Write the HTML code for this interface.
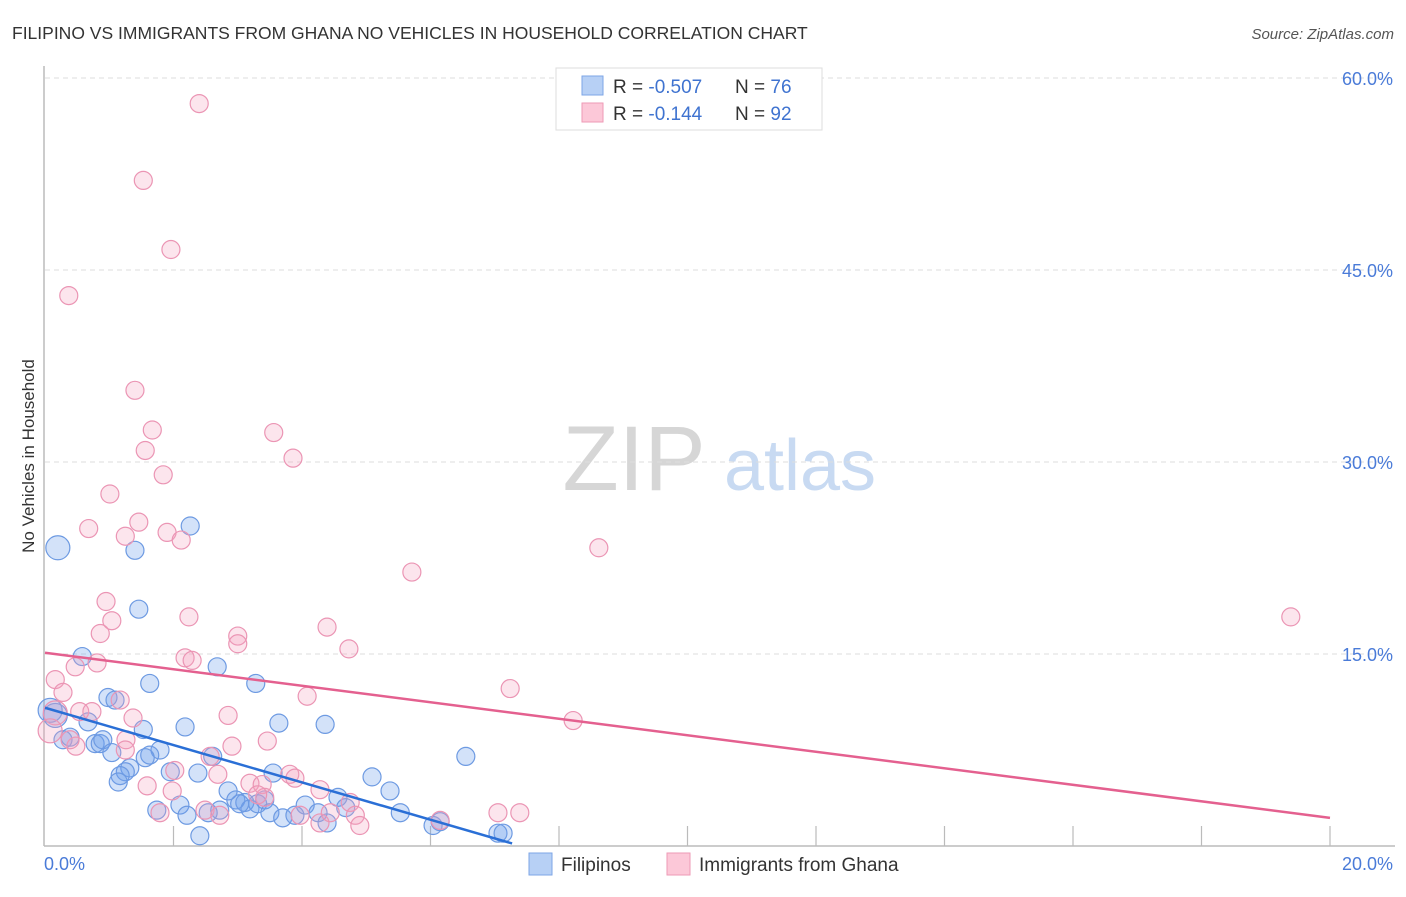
<!DOCTYPE html>
<html><head><meta charset="utf-8"><style>
body{margin:0;background:#fff;font-family:"Liberation Sans",sans-serif;}
svg text{font-family:"Liberation Sans",sans-serif;}
</style></head><body>
<svg id="c" width="1406" height="892" xmlns="http://www.w3.org/2000/svg">
<text x="12" y="39" font-size="17.5" fill="#333">FILIPINO VS IMMIGRANTS FROM GHANA NO VEHICLES IN HOUSEHOLD CORRELATION CHART</text>
<text x="1394" y="39" font-size="15" fill="#555" font-style="italic" text-anchor="end">Source: ZipAtlas.com</text>
<text x="34" y="456" font-size="17" fill="#333" text-anchor="middle" transform="rotate(-90 34 456)">No Vehicles in Household</text>
<g>
<text x="634" y="490" font-size="92" fill="#d6d6d6" font-family="Liberation Serif,serif" text-anchor="middle">ZIP</text>
<text x="800" y="490" font-size="72" fill="#c8daf2" text-anchor="middle">atlas</text>
</g>
<g id="grid"></g><g id="axes"></g><g id="pts"></g><g id="trend"></g>
<g>
<rect x="556" y="68" width="266" height="62" fill="#fff" stroke="#ddd"/>
<rect x="582" y="76" width="21" height="19" fill="#b7d0f5" stroke="#7ea6e6"/>
<rect x="582" y="103" width="21" height="19" fill="#fcc8d8" stroke="#ee9ab6"/>
<text x="613" y="93" font-size="19" fill="#333">R = <tspan fill="#3f73d0">-0.507</tspan></text>
<text x="735" y="93" font-size="19" fill="#333">N = <tspan fill="#3f73d0">76</tspan></text>
<text x="613" y="120" font-size="19" fill="#333">R = <tspan fill="#3f73d0"> -0.144</tspan></text>
<text x="735" y="120" font-size="19" fill="#333">N = <tspan fill="#3f73d0">92</tspan></text>
</g>
<g>
<rect x="529" y="853" width="23" height="22" fill="#b7d0f5" stroke="#7ea6e6"/>
<text x="561" y="871" font-size="19" fill="#333">Filipinos</text>
<rect x="667" y="853" width="23" height="22" fill="#fcc8d8" stroke="#ee9ab6"/>
<text x="699" y="871" font-size="19" fill="#333">Immigrants from Ghana</text>
</g>
</svg>
<script>
const yTicks=[15,30,45,60];
const yTickLabels=["15.0%","30.0%","45.0%","60.0%"];
const xTickLabels=["0.0%","20.0%"];
const blueX=[0.2,2.26,1.4,1.46,0.58,1.63,2.68,3.28,3.64,2.18,4.36,0.98,1.09,1.53,0.67,0.08,0.16,0.28,0.39,0.78,0.86,0.90,1.04,1.79,1.63,1.56,1.32,1.25,1.17,1.14,1.95,2.38,2.61,6.55,5.09,5.37,4.56,3.55,2.85,2.97,3.11,3.19,3.31,3.42,3.50,3.70,3.89,4.05,4.25,4.39,4.68,5.53,6.15,6.04,7.05,7.13,1.74,2.1,2.21,2.41,2.54,2.72,3.03];
const blueY=[23.3,25.0,23.1,18.5,14.8,12.7,14.0,12.7,9.6,9.3,9.5,11.6,11.4,9.1,9.7,10.6,10.2,8.3,8.5,8.0,8.0,8.3,7.3,7.5,7.1,6.9,6.1,5.8,5.5,5.0,5.8,5.7,7.0,7.0,5.4,4.3,3.8,5.7,4.3,3.6,3.4,2.9,3.3,3.6,2.6,2.2,2.4,3.2,2.6,1.8,3.0,2.6,1.9,1.6,1.0,1.0,2.8,3.2,2.4,0.8,2.6,2.8,3.3];
const blueR=[12,9,9,9,9,9,9,9,9,9,9,9,9,9,9,12,12,9,9,9,9,9,9,9,9,9,9,9,9,9,9,9,9,9,9,9,9,9,9,9,9,9,9,9,9,9,9,9,9,9,9,9,9,9,9,9,9,9,9,9,9,9,9];
const pinkX=[2.4,1.53,1.96,0.37,1.4,1.67,1.56,1.84,1.01,0.68,1.46,1.9,2.12,1.25,3.56,3.86,8.62,5.71,19.39,0.95,1.04,0.86,2.24,3.0,3.0,4.39,4.73,2.18,2.29,0.47,0.81,0.16,0.28,4.08,7.24,8.22,0.54,0.73,1.37,2.85,2.91,3.46,1.26,1.25,0.48,0.39,1.17,2.02,2.57,2.69,3.19,3.38,3.81,3.89,4.28,1.59,1.98,1.79,2.49,2.72,3.42,3.31,3.97,4.28,4.44,4.75,4.83,4.90,6.15,7.05,7.39,0.16,0.08];
const pinkY=[58.0,52.0,46.6,43.0,35.6,32.5,30.9,29.0,27.5,24.8,25.3,24.5,23.9,24.2,32.3,30.3,23.3,21.4,17.9,19.1,17.6,16.6,17.9,16.4,15.8,17.1,15.4,14.7,14.5,14.0,14.3,13.0,12.0,11.7,12.3,9.8,10.5,10.5,10.0,10.2,7.8,8.2,8.3,7.5,7.8,8.3,11.4,5.9,7.0,5.6,4.9,4.8,5.6,5.3,4.4,4.7,4.3,2.6,2.8,2.4,3.8,4.0,2.4,1.8,2.6,3.4,2.4,1.6,2.0,2.6,2.6,10.4,9.0];
const blueTrend=[10.8,0.2];const blueTrendX=[0,7.27];
const pinkTrend=[15.1,2.2];const pinkTrendX=[0,20];
const NS="http://www.w3.org/2000/svg";
const X0=45,X1=1330,Y0=846,YS=12.8;
const sx=v=>X0+(X1-X0)*v/20, sy=v=>Y0-v*YS;
function mk(t,a,p){const e=document.createElementNS(NS,t);for(const k in a)e.setAttribute(k,a[k]);p.appendChild(e);return e;}
const grid=document.getElementById('grid'),axes=document.getElementById('axes'),pts=document.getElementById('pts'),tr=document.getElementById('trend');
yTicks.forEach((v,i)=>{
 const l=mk('line',{x1:X0,x2:1395,y1:sy(v),y2:sy(v),stroke:'#ddd','stroke-dasharray':'5,4'},grid);
 
 
 const t=mk('text',{x:1393,y:sy(v)+7,'font-size':18,fill:'#4a7bd8','text-anchor':'end'},axes);t.textContent=yTickLabels[i];
 
 
});
mk('line',{x1:44,x2:44,y1:66,y2:846,stroke:'#bbb','stroke-width':1.5},axes);
mk('line',{x1:44,x2:1395,y1:846,y2:846,stroke:'#bbb','stroke-width':1.5},axes);
for(let i=1;i<=10;i++){mk('line',{x1:sx(i*2),x2:sx(i*2),y1:826,y2:846,stroke:'#bbb','stroke-width':1.2},axes);}
[[44,'start',0],[1393,'end',1]].forEach(([x,a,i])=>{const t=mk('text',{x:x,y:870,'font-size':18,fill:'#4a7bd8','text-anchor':a},axes);t.textContent=xTickLabels[i];
 
 });
blueX.forEach((v,i)=>{const c=mk('circle',{cx:sx(v),cy:sy(blueY[i]),r:blueR[i],fill:'rgba(110,160,235,0.3)',stroke:'#6d9ae2','stroke-width':1.2},pts);
 
 });
pinkX.forEach((v,i)=>{const c=mk('circle',{cx:sx(v),cy:sy(pinkY[i]),r:i>70?12:9,fill:'rgba(245,160,190,0.28)',stroke:'#eb95b4','stroke-width':1.2},pts);
 
 });
const bl=mk('line',{x1:sx(blueTrendX[0]),y1:sy(blueTrend[0]),x2:sx(blueTrendX[1]),y2:sy(blueTrend[1]),stroke:'#2a6fd6','stroke-width':2.5},tr);


const pl=mk('line',{x1:sx(pinkTrendX[0]),y1:sy(pinkTrend[0]),x2:sx(pinkTrendX[1]),y2:sy(pinkTrend[1]),stroke:'#e4608f','stroke-width':2.5},tr);


</script>
</body></html>
